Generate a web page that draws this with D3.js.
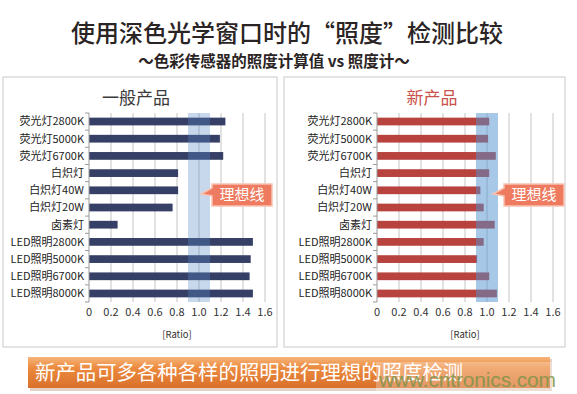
<!DOCTYPE html>
<html>
<head>
<meta charset="utf-8">
<script src="https://cdn.jsdelivr.net/npm/d3@7"></script>
<style>
	body { margin: 0; background: #fff; }
	svg { display: block; font-family: "Noto Sans CJK SC", "Noto Sans", sans-serif; }
</style>
</head>
<body>
<svg id="chart" width="577" height="394"></svg>
<script>
// chart data
const categories = [
	"荧光灯2800K", "荧光灯5000K", "荧光灯6700K", "白炽灯", "白炽灯40W", "白炽灯20W",
	"卤素灯", "LED照明2800K", "LED照明5000K", "LED照明6700K", "LED照明8000K"
];
const generalValues = [1.24, 1.19, 1.22, 0.81, 0.81, 0.76, 0.26, 1.49, 1.47, 1.46, 1.49];
const newValues = [1.02, 1.01, 1.08, 1.02, 0.94, 0.97, 1.07, 0.97, 0.91, 1.02, 1.09];
const xTicks = [0, 0.2, 0.4, 0.6, 0.8, 1.0, 1.2, 1.4, 1.6];
const xTickLabels = ["0", "0.2", "0.4", "0.6", "0.8", "1.0", "1.2", "1.4", "1.6"];
const idealRange = [0.9, 1.1];

const svg = d3.select("#chart");

// headings
svg.append("text")
	.attr("x", 287).attr("y", 42)
	.attr("text-anchor", "middle")
	.attr("font-size", 24)
	.attr("font-weight", 500)
	.attr("fill", "#2b2424")
	.text("使用深色光学窗口时的“照度”检测比较");

svg.append("text")
	.attr("x", 274).attr("y", 67)
	.attr("text-anchor", "middle")
	.attr("font-size", 15.5)
	.attr("font-weight", "bold")
	.attr("fill", "#2b2424")
	.text("〜色彩传感器的照度计算值 vs 照度计〜");

/*
	One bordered panel with a horizontal bar chart and the blue "ideal" band
*/
function drawPanel(cfg) {
	const g = svg.append("g");

	g.append("rect")
		.attr("x", cfg.box[0]).attr("y", cfg.box[1])
		.attr("width", cfg.box[2]).attr("height", cfg.box[3])
		.attr("fill", "#fff")
		.attr("stroke", "#c9c9c9");

	g.append("text")
		.attr("x", cfg.titleX).attr("y", 104)
		.attr("text-anchor", "middle")
		.attr("font-size", 17)
		.attr("fill", cfg.titleColor)
		.text(cfg.title);

	const x = d3.scaleLinear().domain([0, 1.6]).range([cfg.x0, cfg.x0 + 176]);
	const y = d3.scaleBand().domain(categories).range([113, 302]).paddingInner(0.55).paddingOuter(0.27);
	const top = 113, bottom = 302;

	// vertical grid
	g.selectAll(".grid").data(xTicks.slice(1)).enter().append("line")
		.attr("x1", d => x(d)).attr("x2", d => x(d))
		.attr("y1", top).attr("y2", bottom)
		.attr("stroke", "#c4c4c4");

	// bars
	g.selectAll(".bar").data(cfg.values).enter().append("rect")
		.attr("x", x(0))
		.attr("y", (d, i) => y(categories[i]))
		.attr("width", d => x(d) - x(0))
		.attr("height", y.bandwidth())
		.attr("fill", cfg.barColor);

	// ideal band sits on top, semi transparent
	g.append("rect")
		.attr("x", x(idealRange[0])).attr("y", top)
		.attr("width", x(idealRange[1]) - x(idealRange[0]))
		.attr("height", bottom - top)
		.attr("fill", cfg.bandColor)
		.attr("opacity", cfg.bandOpacity);

	// category axis
	g.append("line")
		.attr("x1", x(0)).attr("x2", x(0))
		.attr("y1", top).attr("y2", bottom)
		.attr("stroke", "#9a9a9a");
	const edges = categories.map(c => y(c) - y.step() * y.paddingInner() / 2).concat([bottom]);
	edges[0] = top;
	g.selectAll(".ytick").data(edges).enter().append("line")
		.attr("x1", x(0) - 4).attr("x2", x(0))
		.attr("y1", d => d).attr("y2", d => d)
		.attr("stroke", "#9a9a9a");

	g.selectAll(".cat").data(categories).enter().append("text")
		.attr("x", x(0) - 5)
		.attr("y", d => y(d) + y.bandwidth() / 2)
		.attr("dy", "0.36em")
		.attr("text-anchor", "end")
		.attr("font-size", 11)
		.attr("fill", "#222")
		.text(d => d);

	g.selectAll(".xlab").data(xTicks).enter().append("text")
		.attr("x", d => x(d))
		.attr("y", 316)
		.attr("text-anchor", "middle")
		.attr("font-size", 11)
		.attr("fill", "#333")
		.text((d, i) => xTickLabels[i]);

	g.append("text")
		.attr("x", x(0.8)).attr("y", 338)
		.attr("text-anchor", "middle")
		.attr("font-size", 9.5)
		.attr("fill", "#333")
		.text("[Ratio]");

	// callout "理想线"
	const tx = x(0) + cfg.tipOffset, ty = 194;
	const bx = tx + 11, by = 184, bw = 60, bh = 22;
	const path = `M${tx},${ty} L${bx},${ty - 6} L${bx},${by} L${bx + bw},${by} L${bx + bw},${by + bh} L${bx},${by + bh} L${bx},${ty + 2} Z`;
	g.append("path")
		.attr("d", path)
		.attr("fill", "#ee7b60")
		.attr("stroke", "#f8c2b2")
		.attr("stroke-width", 1.5);
	g.append("text")
		.attr("x", bx + bw / 2).attr("y", by + bh / 2)
		.attr("dy", "0.36em")
		.attr("text-anchor", "middle")
		.attr("font-size", 15)
		.attr("fill", "#fff")
		.text("理想线");
}

drawPanel({
	box: [3, 77, 274, 270], title: "一般产品", titleX: 136, titleColor: "#3a3a3a",
	x0: 89, values: generalValues, barColor: "#363f66",
	bandColor: "#5888c5", bandOpacity: 0.33, tipOffset: 112
});

drawPanel({
	box: [284, 77, 281, 270], title: "新产品", titleX: 432, titleColor: "#c9514a",
	x0: 377, values: newValues, barColor: "#b8433e",
	bandColor: "#5191d1", bandOpacity: 0.5, tipOffset: 116
});

// bottom banner
const defs = svg.append("defs");
const grad = defs.append("linearGradient").attr("id", "banner").attr("x1", 0).attr("x2", 0).attr("y1", 0).attr("y2", 1);
grad.append("stop").attr("offset", "0%").attr("stop-color", "#f6b57a");
grad.append("stop").attr("offset", "35%").attr("stop-color", "#ec8a3e");
grad.append("stop").attr("offset", "100%").attr("stop-color", "#d9702b");

svg.append("rect")
	.attr("x", 30).attr("y", 359).attr("width", 522).attr("height", 32)
	.attr("fill", "#e6d2c4");
svg.append("rect")
	.attr("x", 28).attr("y", 357).attr("width", 522).attr("height", 31)
	.attr("fill", "url(#banner)");
svg.append("text")
	.attr("x", 35).attr("y", 380)
	.attr("font-size", 20.4)
	.attr("fill", "#fff")
	.text("新产品可多各种各样的照明进行理想的照度检测");

// watermark
svg.append("rect")
	.attr("x", 376).attr("y", 362).attr("width", 180).attr("height", 32)
	.attr("fill", "#fff").attr("opacity", 0.28);
svg.append("text")
	.attr("x", 379).attr("y", 387)
	.attr("font-family", "Liberation Sans, Arial, sans-serif")
	.attr("font-size", 21)
	.attr("textLength", 177)
	.attr("fill", "#7f9448")
	.attr("opacity", 0.85)
	.text("www.cntronics.com");
</script>
</body>
</html>
